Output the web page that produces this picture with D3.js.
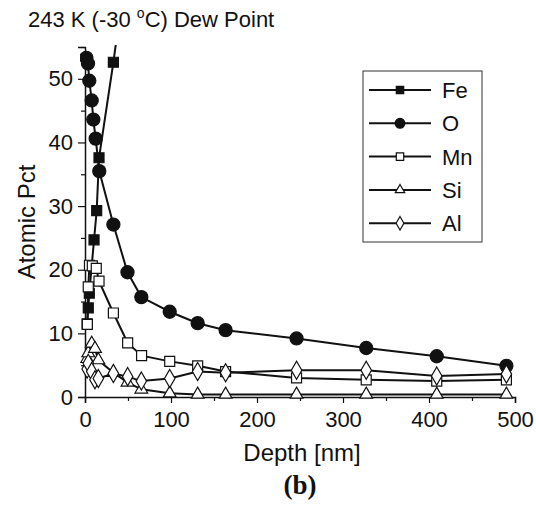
<!DOCTYPE html>
<html lang="en">
<head>
  <meta charset="utf-8">
  <title>243 K Dew Point</title>
  <script src="https://cdn.jsdelivr.net/npm/d3@7"></script>
  <style>
    body { margin: 0; background: #fff; }
    text { font-family: "Liberation Sans", Arial, sans-serif; fill: #111; }
  </style>
</head>
<body>
  <svg id="chart" width="536" height="512"></svg>
  <script>
    // data: [depth nm, atomic pct]
    var seriesNames = ["Fe", "O", "Mn", "Si", "Al"];
    var fe = [[2.5, 11.5], [3.8, 14.0], [5, 16.3], [10.5, 24.7], [13.6, 29.3], [16.3, 37.6], [33, 52.6], [49.4, 69]];
    var o = [[1.6, 53.3], [3.5, 52.4], [5, 49.7], [7.8, 46.6], [9.7, 43.6], [12.4, 40.6], [16.6, 35.5], [33, 27.1],
             [49.4, 19.6], [65.5, 15.7], [98.5, 13.4], [131, 11.6], [163.5, 10.5], [246, 9.2], [327, 7.7], [409, 6.4], [490, 4.9]];
    var mn = [[2.7, 11.4], [3.8, 17.3], [5.2, 20.7], [8.5, 20.6], [13.1, 20.2], [16.3, 18.2], [33, 13.2], [49.6, 8.5],
              [65.8, 6.5], [98.5, 5.6], [131, 4.9], [163.5, 4.0], [246, 3.0], [327, 2.7], [409, 2.5], [490, 2.7]];
    var si = [[2.5, 6.0], [3.8, 6.9], [7.8, 8.4], [11.6, 7.6], [15.5, 5.8], [33, 3.8], [49.4, 2.3], [65.5, 1.2],
              [98.5, 0.6], [131, 0.4], [163.5, 0.4], [246, 0.4], [327, 0.4], [409, 0.4], [490, 0.4]];
    var al = [[2.5, 4.4], [3.8, 5.3], [7.8, 4.0], [11.6, 2.7], [15.5, 2.9], [33, 3.7], [49.6, 3.2], [65.5, 2.5],
              [98.5, 2.9], [131, 4.0], [163.5, 3.8], [246, 4.2], [327, 4.2], [409, 3.3], [490, 3.6]];
    var xTicks = [0, 100, 200, 300, 400, 500];
    var yTicks = [0, 10, 20, 30, 40, 50];

    var svg = d3.select("#chart");
    var x = d3.scaleLinear().domain([0, 500]).range([85, 515]);
    var y = d3.scaleLinear().domain([0, 55]).range([397, 47]);

    svg.append("clipPath").attr("id", "plotclip")
      .append("rect").attr("x", 80).attr("y", 45).attr("width", 450).attr("height", 360);

    // title
    var title = svg.append("text").attr("x", 28).attr("y", 27).style("font-size", "22px");
    title.append("tspan").text("243 K (-30 ");
    title.append("tspan").attr("dy", -9).style("font-size", "14px").text("o");
    title.append("tspan").attr("dy", 9).text("C) Dew Point");

    // axes
    var xAxis = d3.axisBottom(x).tickValues(xTicks).tickSize(6).tickPadding(6);
    var gx = svg.append("g").attr("transform", "translate(0," + y(0) + ")").call(xAxis);
    gx.selectAll("text").style("font-size", "22px").attr("dy", "0.8em");
    svg.append("g").attr("transform", "translate(0," + y(0) + ")")
      .call(d3.axisBottom(x).tickValues([50, 150, 250, 350, 450]).tickSize(4).tickFormat(""))
      .select(".domain").remove();

    var yAxis = d3.axisLeft(y).tickValues(yTicks).tickSize(7).tickPadding(5);
    var gy = svg.append("g").attr("transform", "translate(" + x(0) + ",0)").call(yAxis);
    gy.selectAll("text").style("font-size", "22px");
    svg.append("g").attr("transform", "translate(" + x(0) + ",0)")
      .call(d3.axisLeft(y).tickValues([5, 15, 25, 35, 45, 55]).tickSize(4).tickFormat(""))
      .select(".domain").remove();

    svg.selectAll(".domain").attr("stroke", "#111").attr("stroke-width", 1.5);
    svg.selectAll(".tick line").attr("stroke", "#111").attr("stroke-width", 1.2);

    // axis titles
    svg.append("text").attr("transform", "translate(35," + 222 + ") rotate(-90)")
      .attr("text-anchor", "middle").style("font-size", "24px").text("Atomic Pct");
    svg.append("text").attr("x", 302).attr("y", 461)
      .attr("text-anchor", "middle").style("font-size", "24px").text("Depth [nm]");
    svg.append("text").attr("x", 300).attr("y", 494)
      .attr("text-anchor", "middle").style("font-size", "27px").style("font-weight", "bold")
      .style("font-family", "'Liberation Serif', 'Times New Roman', serif").text("(b)");

    // marker styles
    var markers = {
      Fe: { type: d3.symbolSquare, size: 100, fill: "#111" },
      O: { type: d3.symbolCircle, size: 135, fill: "#111" },
      Mn: { type: d3.symbolSquare, size: 100, fill: "#fff" },
      Si: { type: d3.symbolTriangle, size: 70, fill: "#fff" },
      Al: { type: d3.symbolDiamond, size: 95, fill: "#fff" }
    };
    var allData = [fe, o, mn, si, al];

    var line = d3.line().x(function (d) { return x(d[0]); }).y(function (d) { return y(d[1]); });
    var plot = svg.append("g").attr("clip-path", "url(#plotclip)");

    seriesNames.forEach(function (name, i) {
      var m = markers[name];
      plot.append("path").datum(allData[i])
        .attr("d", line).attr("fill", "none").attr("stroke", "#111").attr("stroke-width", 2);
      plot.selectAll(".pt" + name).data(allData[i].filter(function (d) { return d[1] <= 55; }))
        .enter().append("path")
        .attr("class", "pt" + name)
        .attr("transform", function (d) { return "translate(" + x(d[0]) + "," + y(d[1]) + ")"; })
        .attr("d", d3.symbol().type(m.type).size(m.size))
        .attr("fill", m.fill).attr("stroke", "#111").attr("stroke-width", 1.2);
    });

    // legend
    var lg = svg.append("g");
    lg.append("rect").attr("x", 363).attr("y", 71).attr("width", 119).attr("height", 171)
      .attr("fill", "#fff").attr("stroke", "#333").attr("stroke-width", 1);
    seriesNames.forEach(function (name, i) {
      var m = markers[name];
      var yy = 90 + i * 33.3;
      lg.append("line").attr("x1", 369).attr("x2", 431).attr("y1", yy).attr("y2", yy)
        .attr("stroke", "#111").attr("stroke-width", 2);
      lg.append("path").attr("transform", "translate(400," + yy + ")")
        .attr("d", d3.symbol().type(m.type).size(m.size * 0.55))
        .attr("fill", m.fill).attr("stroke", "#111").attr("stroke-width", 1.2);
      lg.append("text").attr("x", 442).attr("y", yy + 8).style("font-size", "22px").text(name);
    });
  </script>
</body>
</html>
